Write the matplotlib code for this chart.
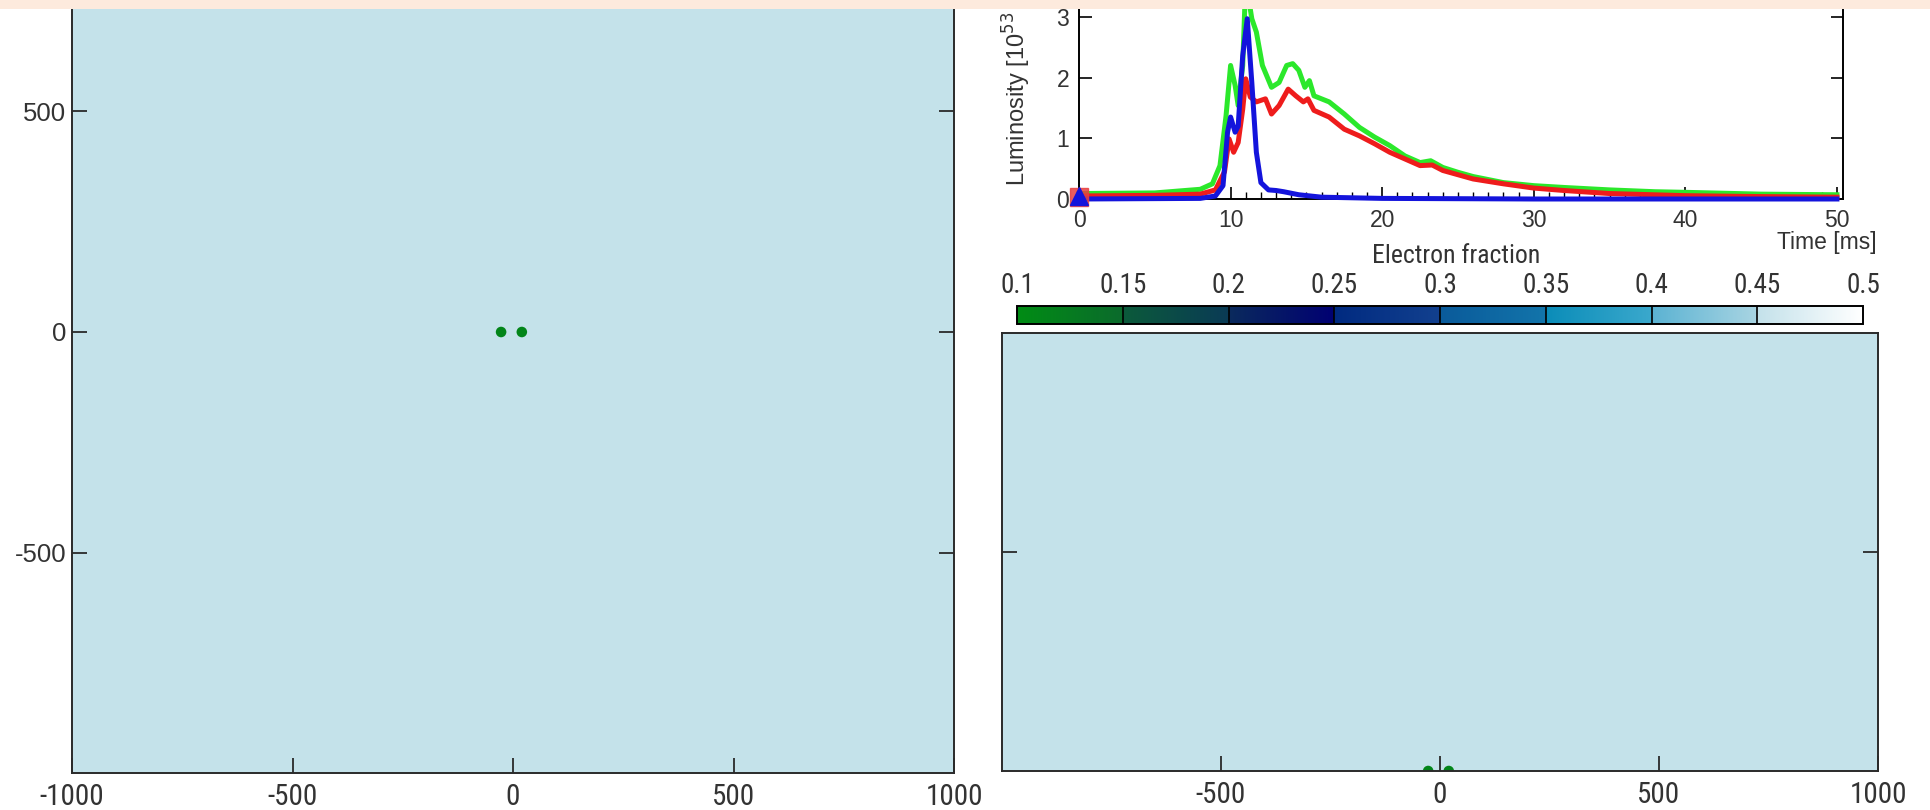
import numpy as np
import matplotlib
matplotlib.use('Agg')
import matplotlib.pyplot as plt
from matplotlib import font_manager
from matplotlib.colors import LinearSegmentedColormap, Normalize
from matplotlib.cm import ScalarMappable
from matplotlib.patches import Rectangle
from matplotlib.ticker import MultipleLocator

# ---------------- data ----------------
time_green = [0, 5, 8, 8.8, 9.3, 9.7, 10.0, 10.3, 10.5, 10.8, 11.0, 11.4, 11.7, 12.1, 12.7,
              13.2, 13.7, 14.1, 14.5, 14.9, 15.2, 15.5, 16.5, 17.5, 18.5, 19.5, 20.5, 21.5,
              22.5, 23.2, 24, 25, 26, 27, 28, 30, 32, 35, 38, 40, 45, 50]
lum_green = [0.09, 0.10, 0.16, 0.25, 0.55, 1.37, 2.2, 1.87, 1.54, 2.2, 3.6, 2.97, 2.75, 2.2, 1.84,
             1.92, 2.2, 2.23, 2.12, 1.84, 1.95, 1.7, 1.6, 1.4, 1.18, 1.02, 0.88, 0.71,
             0.6, 0.63, 0.52, 0.44, 0.37, 0.32, 0.27, 0.22, 0.19, 0.15, 0.12, 0.11, 0.08, 0.07]

time_red = [0, 5, 8, 9, 9.6, 9.9, 10.2, 10.5, 10.8, 11.0, 11.3, 11.7, 12.3, 12.7, 13.2, 13.8,
            14.3, 14.8, 15.1, 15.5, 16.5, 17.5, 18.5, 19.5, 20.5, 21.5, 22.5, 23.3, 24, 25,
            26, 27, 28, 30, 32, 35, 40, 45, 50]
lum_red = [0.05, 0.06, 0.08, 0.15, 0.45, 0.99, 0.77, 0.93, 1.48, 1.98, 1.68, 1.6, 1.65, 1.4, 1.54, 1.81,
           1.7, 1.6, 1.65, 1.46, 1.35, 1.15, 1.04, 0.91, 0.77, 0.66, 0.55, 0.56, 0.47, 0.4,
           0.33, 0.29, 0.25, 0.18, 0.14, 0.09, 0.055, 0.04, 0.03]

time_blue = [0, 8, 9, 9.5, 9.8, 10.0, 10.3, 10.5, 10.8, 11.1, 11.4, 11.7, 12.0, 12.5, 13.0,
             13.5, 14.5, 16, 20, 30, 50]
lum_blue = [0.0, 0.01, 0.05, 0.22, 1.1, 1.35, 1.1, 1.2, 2.36, 2.97, 1.92, 0.77, 0.27, 0.15, 0.14,
            0.12, 0.07, 0.03, 0.01, 0.0, 0.0]

current_time = [0.0]
marker_lum_red = [0.03]
marker_lum_blue = [0.05]

time_ticks = [0, 10, 20, 30, 40, 50]
lum_ticks = [0, 1, 2, 3]

ye_ticks = [0.1, 0.15, 0.2, 0.25, 0.3, 0.35, 0.4, 0.45, 0.5]
ye_tick_labels = ['0.1', '0.15', '0.2', '0.25', '0.3', '0.35', '0.4', '0.45', '0.5']
ye_cmap_stops = [0.10, 0.1499, 0.15, 0.1999, 0.20, 0.2499, 0.25, 0.2999, 0.30, 0.3499,
                 0.35, 0.3999, 0.40, 0.4499, 0.45, 0.50]
ye_cmap_colors = ['#008c14', '#0b6a2c', '#0b5a3a', '#0a3a55', '#0a2a5c', '#000072', '#002a80',
                  '#12408e', '#0a5a9a', '#1274aa', '#0a8cb8', '#3aa8cc', '#5ab2d2', '#a8d4e2',
                  '#c3e1ea', '#ffffff']
ye_ambient = 0.451

ns_x = [-27, 20]
ns_y_orbit = [0, 0]
ns_z = [0, 0]
ns_ye = [0.11, 0.11]

xy_ticks = [-1000, -500, 0, 500, 1000]
xy_tick_labels = ['-1000', '-500', '0', '500', '1000']
y_ticks_left = [-500, 0, 500]
y_tick_labels_left = ['-500', '0', '500']
xz_ticks = [-500, 0, 500, 1000]
xz_tick_labels = ['-500', '0', '500', '1000']
z_ticks = [500]

# ---------------- fonts ----------------
names = {f.name for f in font_manager.fontManager.ttflist}
if 'Liberation Sans Narrow' in names:
    NARROW = ['Liberation Sans Narrow', 'DejaVu Sans']
elif 'Roboto Condensed' in names:
    NARROW = ['Roboto Condensed', 'DejaVu Sans']
else:
    NARROW = ['Roboto', 'DejaVu Sans']
REGULAR = ['Liberation Sans', 'DejaVu Sans']
plt.rcParams['font.family'] = REGULAR

W, H = 1930, 810
fig = plt.figure(figsize=(W / 100, H / 100), dpi=100, facecolor='white')


def px_axes(left, top, right, bottom):
    return fig.add_axes([left / W, 1 - bottom / H, (right - left) / W, (bottom - top) / H])


cmap = LinearSegmentedColormap.from_list(
    'ye', list(zip([(s - 0.1) / 0.4 for s in ye_cmap_stops], ye_cmap_colors)), N=1024)
norm = Normalize(0.1, 0.5)

SPINE = '#2a2a2a'
TXT = '#333333'

# ---------------- left: x-y plane ----------------
axL = px_axes(72, 773 - 882, 954, 773)
axL.set_facecolor(cmap(norm(ye_ambient)))
axL.scatter(ns_x, ns_y_orbit, c=ns_ye, cmap=cmap, norm=norm, s=58, edgecolors='none', zorder=3)
axL.set_xlim(-1000, 1000)
axL.set_ylim(-1000, 1000)
axL.set_xticks(xy_ticks)
axL.set_xticklabels(xy_tick_labels, family=NARROW, fontsize=21, color=TXT)
axL.set_yticks(y_ticks_left)
axL.set_yticklabels(y_tick_labels_left, family=REGULAR, fontsize=18.5, color=TXT)
axL.tick_params(axis='both', direction='in', length=11, width=1.3, color=SPINE, right=True, top=False)
axL.tick_params(axis='x', pad=7)
axL.tick_params(axis='y', pad=4)
for sp in axL.spines.values():
    sp.set_color(SPINE)
    sp.set_linewidth(1.4)

# ---------------- right bottom: x-z plane ----------------
axR = px_axes(1002, 333, 1878, 771)
axR.set_facecolor(cmap(norm(ye_ambient)))
axR.scatter(ns_x, ns_z, c=ns_ye, cmap=cmap, norm=norm, s=58, edgecolors='none', zorder=1)
axR.set_xlim(-1000, 1000)
axR.set_ylim(0, 1000)
axR.set_xticks(xz_ticks)
axR.set_xticklabels(xz_tick_labels, family=NARROW, fontsize=21, color=TXT)
axR.set_yticks(z_ticks)
axR.set_yticklabels([])
axR.tick_params(axis='both', direction='in', length=11, width=1.3, color=SPINE, right=True, top=False)
axR.tick_params(axis='x', pad=7)
for sp in axR.spines.values():
    sp.set_color(SPINE)
    sp.set_linewidth(1.4)

# ---------------- top right: luminosity ----------------
px_per_unit = 60.7
ymax = 3.4
axT = px_axes(1079, 199 - ymax * px_per_unit, 1843, 199)
axT.plot(time_green, lum_green, color='#2be82b', lw=3.6, solid_joinstyle='round', clip_on=False, zorder=2)
axT.plot(time_red, lum_red, color='#ee1c1c', lw=3.6, solid_joinstyle='round', clip_on=False, zorder=3)
axT.plot(time_blue, lum_blue, color='#1414dc', lw=3.6, solid_joinstyle='round', clip_on=False, zorder=4)
axT.plot(current_time, marker_lum_red, marker='s', ms=13, color='#e84040', alpha=0.85,
         clip_on=False, zorder=5, linestyle='none')
axT.plot(current_time, marker_lum_blue, marker='^', ms=13, color='#1414dc',
         clip_on=False, zorder=6, linestyle='none')
axT.set_xlim(0, 50.4)
axT.set_ylim(0, ymax)
axT.set_xticks(time_ticks)
axT.set_xticklabels([str(t) for t in time_ticks], fontsize=16.5, color=TXT)
axT.xaxis.set_minor_locator(MultipleLocator(1))
axT.set_yticks(lum_ticks)
axT.set_yticklabels([str(v) for v in lum_ticks], fontsize=16.5, color=TXT)
axT.tick_params(axis='both', which='major', direction='in', length=9, width=1.2, color='black',
                right=True, top=False)
axT.tick_params(axis='x', which='minor', direction='in', length=5, width=1.0, color='black', top=False)
axT.tick_params(axis='x', pad=7)
axT.tick_params(axis='y', pad=7)
for sp in axT.spines.values():
    sp.set_color('black')
    sp.set_linewidth(1.4)

fig.text(1017 / W, 1 - 186 / H, 'Luminosity [10$^{53}$ erg/s]', rotation=90, ha='center',
         va='bottom', fontsize=17, color=TXT)
fig.text(1877 / W, 1 - 242 / H, 'Time [ms]', ha='right', va='center', fontsize=16.5, color=TXT)

# ---------------- colorbar ----------------
cax = px_axes(1017, 306, 1863, 324)
sm = ScalarMappable(norm=norm, cmap=cmap)
cb = fig.colorbar(sm, cax=cax, orientation='horizontal', ticks=ye_ticks)
cax.xaxis.set_ticks_position('top')
cax.set_xticklabels(ye_tick_labels, family=NARROW, fontsize=19.5, color=TXT)
cax.tick_params(length=0, pad=5)
for v in ye_ticks[1:-1]:
    cax.axvline(v, color='black', lw=1.2)
cb.outline.set_edgecolor('black')
cb.outline.set_linewidth(1.4)
fig.text(1456 / W, 1 - 256 / H, 'Electron fraction', ha='center', va='center',
         family=NARROW, fontsize=18.5, color=TXT)

# ---------------- top band ----------------
fig.add_artist(Rectangle((0, 1 - 8.5 / H), 1, 8.5 / H, transform=fig.transFigure,
                         facecolor='#fdeadd', edgecolor='none', zorder=100))

fig.savefig('out.png', dpi=100, facecolor='white')
